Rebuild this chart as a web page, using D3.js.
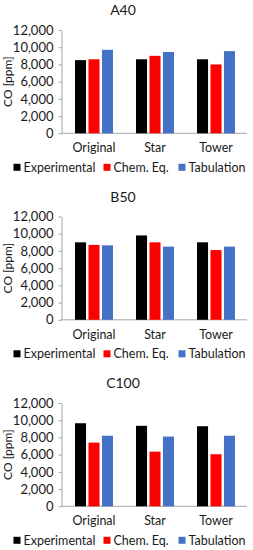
<!DOCTYPE html>
<html>
<head>
<meta charset="utf-8">
<script src="https://cdn.jsdelivr.net/npm/d3@7"></script>
<style>
  body { margin: 0; background: #fff; }
  text { font-family: Lato, "Open Sans", sans-serif; fill: #1a1a1a; }
</style>
</head>
<body>
<div id="chart"></div>
<script>
const panels = ['A40', 'B50', 'C100'];
const categories = ['Original', 'Star', 'Tower'];
const seriesNames = ['Experimental', 'Chem. Eq.', 'Tabulation'];
const seriesColors = ['#000000', '#ff0000', '#4472c4'];
const yTicks = [0, 2000, 4000, 6000, 8000, 10000, 12000];

// values per panel: [Experimental, Chem. Eq., Tabulation] for each category
const a40 = [[8500, 8600, 9700], [8600, 9000, 9450], [8600, 8000, 9550]];
const b50 = [[9000, 8700, 8650], [9800, 9000, 8500], [9000, 8100, 8500]];
const c100 = [[9650, 7400, 8200], [9350, 6350, 8100], [9300, 6050, 8200]];
const panelData = [a40, b50, c100];

const width = 253, height = 550;
const svg = d3.select('#chart').append('svg')
  .attr('width', width).attr('height', height);

const panelOffset = 186.5;
const plot = { left: 61.5, right: 247, top: 30, bottom: 133.3 };

const x = d3.scaleBand().domain(categories).range([63.5, 246.5]);
const x1 = d3.scaleBand().domain(seriesNames).range([0, 38]).paddingInner(0.18);
const y = d3.scaleLinear().domain([0, 12000]).range([plot.bottom, plot.top]);

panels.forEach((name, p) => {
  const g = svg.append('g').attr('transform', `translate(0, ${p * panelOffset})`);

  g.append('text')
    .attr('x', 123).attr('y', 15)
    .attr('text-anchor', 'middle')
    .style('font-size', '14px')
    .text(name);

  g.append('text')
    .attr('transform', `translate(11.5, ${(plot.top + plot.bottom) / 2}) rotate(-90)`)
    .attr('text-anchor', 'middle')
    .style('font-size', '12px')
    .text('CO [ppm]');

  const yAxis = g.append('g')
    .attr('transform', `translate(${plot.left}, 0)`)
    .call(d3.axisLeft(y).tickValues(yTicks).tickSize(3).tickSizeOuter(0)
      .tickFormat(d3.format(',')));
  yAxis.select('.domain').attr('stroke', '#a6a6a6');
  yAxis.selectAll('.tick line').attr('stroke', '#a6a6a6');
  yAxis.selectAll('.tick text').attr('x', -8).style('font-size', '13px')
    .attr('font-family', null);

  g.append('line')
    .attr('x1', plot.left).attr('x2', plot.right)
    .attr('y1', plot.bottom).attr('y2', plot.bottom)
    .attr('stroke', '#a6a6a6');

  const groups = g.selectAll('.grp')
    .data(panelData[p])
    .enter().append('g')
    .attr('transform', (d, i) => `translate(${x(categories[i]) + x.bandwidth() / 2 - 19}, 0)`);

  groups.selectAll('rect')
    .data(d => d.map((v, k) => ({ v, k })))
    .enter().append('rect')
    .attr('x', d => x1(seriesNames[d.k]))
    .attr('width', x1.bandwidth())
    .attr('y', d => y(d.v))
    .attr('height', d => y(0) - y(d.v))
    .attr('fill', d => seriesColors[d.k]);

  g.selectAll('.cat')
    .data(categories)
    .enter().append('text')
    .attr('x', d => x(d) + x.bandwidth() / 2)
    .attr('y', 152)
    .attr('text-anchor', 'middle')
    .style('font-size', '12.5px')
    .text(d => d);

  const legendX = [13.5, 103.5, 178.5];
  const lg = g.selectAll('.leg')
    .data(seriesNames)
    .enter().append('g')
    .attr('transform', (d, i) => `translate(${legendX[i]}, 167.3)`);
  lg.append('rect')
    .attr('x', 0).attr('y', -3.5).attr('width', 7).attr('height', 7)
    .attr('fill', (d, i) => seriesColors[i]);
  lg.append('text')
    .attr('x', 10).attr('y', 4.3)
    .style('font-size', '12.5px')
    .text(d => d);
});
</script>
</body>
</html>
